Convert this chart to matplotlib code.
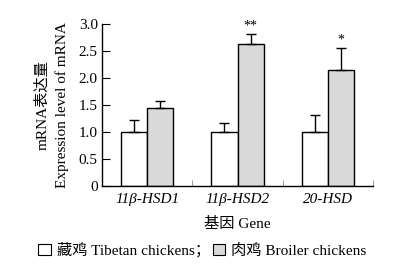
import matplotlib
matplotlib.use("Agg")
import matplotlib.pyplot as plt
from matplotlib.patches import Rectangle
import numpy as np

genes = ["11β-HSD1", "11β-HSD2", "20-HSD"]
tibetan = [1.0, 1.0, 1.0]
tibetan_err = [0.22, 0.17, 0.32]
broiler = [1.44, 2.63, 2.15]
broiler_err = [0.13, 0.18, 0.40]
signif = ["", "**", "*"]
yticks = [0, 0.5, 1.0, 1.5, 2.0, 2.5, 3.0]
ytick_labels = ["0", "0.5", "1.0", "1.5", "2.0", "2.5", "3.0"]

plt.rcParams['font.family'] = ['Liberation Serif', 'Noto Sans CJK SC']
plt.rcParams['font.size'] = 11

fig = plt.figure(figsize=(3.97, 2.68), dpi=100)
ax = fig.add_axes([0.257, 0.306, 0.6825, 0.604])

x = np.arange(len(genes))
w = 0.29
grey = "#d9d9d9"
ax.bar(x - w/2, tibetan, w, color="white", edgecolor="black", linewidth=1.0,
       yerr=[np.zeros(3), tibetan_err], error_kw=dict(ecolor="black", elinewidth=1.0, capsize=3.5, capthick=1.0))
ax.bar(x + w/2, broiler, w, color=grey, edgecolor="black", linewidth=1.0,
       yerr=[np.zeros(3), broiler_err], error_kw=dict(ecolor="black", elinewidth=1.0, capsize=3.5, capthick=1.0))
for xi, b, e, s in zip(x, broiler, broiler_err, signif):
    if s:
        ax.text(xi + w/2, b + e + 0.04, s, ha="center", va="bottom", fontsize=10)

ax.set_xlim(-0.5, 2.5)
ax.set_ylim(0, 3.0)
ax.set_yticks(yticks)
ax.set_yticklabels(ytick_labels)
ax.set_xticks(x)
ax.set_xticklabels(genes, style="italic")
ax.set_xticks([0.5, 1.5, 2.5], minor=True)
ax.tick_params(axis="x", which="major", length=0, pad=5)
ax.tick_params(axis="x", which="minor", direction="in", length=4, color="#888888")
ax.tick_params(axis="y", direction="in", length=6, pad=3)
for sp in ["top", "right"]:
    ax.spines[sp].set_visible(False)
ax.spines["left"].set_linewidth(1.0)
ax.spines["bottom"].set_linewidth(1.0)

ax.set_xlabel("基因 Gene", labelpad=8)
ax.set_ylabel("mRNA表达量\nExpression level of mRNA", labelpad=7, linespacing=1.55)

handles = [Rectangle((0, 0), 1, 1, facecolor="white", edgecolor="black", linewidth=0.8),
           Rectangle((0, 0), 1, 1, facecolor=grey, edgecolor="black", linewidth=0.8)]
fig.legend(handles, ["藏鸡 Tibetan chickens；", "肉鸡 Broiler chickens"], ncol=2,
           loc="center", bbox_to_anchor=(0.51, 1 - 250/268), frameon=False,
           handlelength=0.8, handleheight=0.8, handletextpad=0.4, columnspacing=0.2, fontsize=11)

fig.savefig("out.png", dpi=100)
